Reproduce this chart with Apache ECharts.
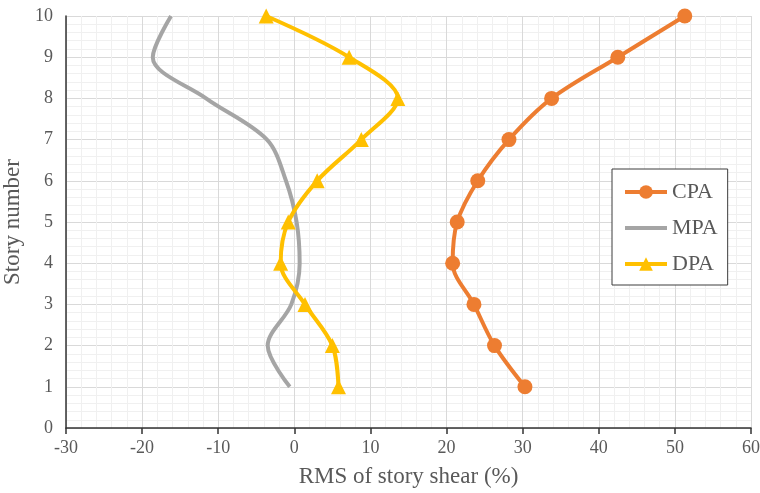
<!DOCTYPE html>
<html>
<head>
<meta charset="utf-8">
<script src="https://cdn.jsdelivr.net/npm/echarts@6/dist/echarts.min.js"></script>
<style>
html,body{margin:0;padding:0;background:#fff;}
#chart{width:760px;height:493px;}
</style>
</head>
<body>
<div id="chart"></div>
<script>
// Story numbers (y) and RMS of story shear (%) per method (x)
const stories = [1, 2, 3, 4, 5, 6, 7, 8, 9, 10];
const cpaValues = [30.3, 26.3, 23.6, 20.8, 21.4, 24.1, 28.2, 33.8, 42.5, 51.3];
const mpaValues = [-0.6, -3.5, -0.4, 0.7, 0.3, -1.1, -3.6, -11.6, -18.6, -16.2];
const dpaValues = [5.8, 5.0, 1.4, -1.8, -0.8, 3.0, 8.8, 13.6, 7.2, -3.7];
const seriesNames = ['CPA', 'MPA', 'DPA'];
const xTicks = { min: -30, max: 60, interval: 10 };
const yTicks = { min: 0, max: 10, interval: 1 };

const pairs = (xs) => xs.map((x, i) => [x, stories[i]]);
const FONT = "'Liberation Serif', 'Times New Roman', serif";
const TXT = '#595959';
const AX = '#333333';

const chart = echarts.init(document.getElementById('chart'), null, { renderer: 'canvas' });
chart.setOption({
  animation: false,
  backgroundColor: '#ffffff',
  grid: { left: 66, right: 9, top: 16, bottom: 65, containLabel: false, outerBoundsMode: 'none' },
  legend: {
    orient: 'vertical',
    left: 612,
    top: 169,
    data: [
      { name: seriesNames[0] },
      { name: seriesNames[1], itemStyle: { opacity: 0 } },
      { name: seriesNames[2] }
    ],
    itemWidth: 42,
    itemHeight: 17,
    itemGap: 14,
    padding: [12, 10, 10, 11],
    borderColor: '#3c3c3c',
    borderWidth: 1,
    backgroundColor: '#ffffff',
    lineStyle: { width: 4 },
    textStyle: { fontFamily: FONT, fontSize: 22, color: TXT, lineHeight: 22 }
  },
  xAxis: {
    type: 'value',
    min: xTicks.min, max: xTicks.max, interval: xTicks.interval,
    name: 'RMS of story shear (%)',
    nameLocation: 'middle',
    nameGap: 37,
    nameTextStyle: { fontFamily: FONT, fontSize: 23, color: TXT },
    axisLine: { show: true, onZero: false, lineStyle: { color: AX, width: 1.5 } },
    axisTick: { show: true, length: 6, inside: false, lineStyle: { color: AX, width: 1.5 } },
    axisLabel: { fontFamily: FONT, fontSize: 18, color: TXT, margin: 11 },
    splitLine: { show: true, lineStyle: { color: '#d9d9d9', width: 1 } },
    minorTick: { show: false, splitNumber: 5 },
    minorSplitLine: { show: true, lineStyle: { color: '#f0f0f0', width: 1 } }
  },
  yAxis: {
    type: 'value',
    min: yTicks.min, max: yTicks.max, interval: yTicks.interval,
    name: 'Story number',
    nameLocation: 'middle',
    nameGap: 38,
    nameTextStyle: { fontFamily: FONT, fontSize: 23, color: TXT },
    axisLine: { show: true, onZero: false, lineStyle: { color: AX, width: 1.5 } },
    axisTick: { show: false },
    axisLabel: { fontFamily: FONT, fontSize: 18, color: TXT, margin: 13 },
    splitLine: { show: true, lineStyle: { color: '#d9d9d9', width: 1 } },
    minorTick: { show: false, splitNumber: 5 },
    minorSplitLine: { show: true, lineStyle: { color: '#f0f0f0', width: 1 } }
  },
  series: [
    {
      name: seriesNames[0], type: 'line', smooth: 0.33,
      data: pairs(cpaValues),
      symbol: 'circle', symbolSize: 15,
      lineStyle: { color: '#ED7D31', width: 4 },
      itemStyle: { color: '#ED7D31' }
    },
    {
      name: seriesNames[1], type: 'line', smooth: 0.33,
      data: pairs(mpaValues),
      symbol: 'none', showSymbol: false,
      lineStyle: { color: '#A5A5A5', width: 4 },
      itemStyle: { color: '#A5A5A5' }
    },
    {
      name: seriesNames[2], type: 'line', smooth: 0.33,
      data: pairs(dpaValues),
      symbol: 'triangle', symbolSize: 15,
      lineStyle: { color: '#FFC000', width: 4 },
      itemStyle: { color: '#FFC000' }
    }
  ]
});
</script>
</body>
</html>
